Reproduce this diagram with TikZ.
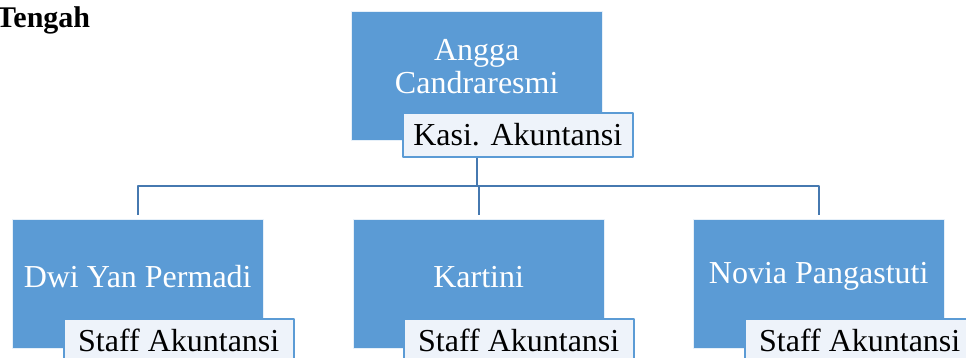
\documentclass[tikz,border=0pt]{standalone}
\usepackage{fontspec}
\setmainfont{Liberation Serif}
\definecolor{wwccff}{rgb}{0.357,0.608,0.835}
\definecolor{eeffff}{rgb}{0.933,0.953,0.980}
\definecolor{qqttbb}{rgb}{0.275,0.475,0.690}
\begin{document}
\begin{tikzpicture}[line cap=round,line join=round,x=1pt,y=-1pt,
	kotak/.style={draw=white!85!wwccff,fill=wwccff,anchor=north west,inner sep=0pt,minimum width=251pt,minimum height=129pt},
	jabatan/.style={draw=wwccff,line width=1.5pt,fill=eeffff,anchor=north west,inner sep=0pt,minimum width=230pt,minimum height=44pt,font=\fontsize{32}{34}\selectfont},
	nama/.style={text=white,align=center,inner sep=0pt,font=\fontsize{32}{33}\selectfont},
	garis/.style={draw=qqttbb,line width=2pt,line cap=butt}]
	\useasboundingbox (0,0) rectangle (966,357);
	\clip (0,0) rectangle (966,357);
	\node[anchor=base west,inner sep=0pt,font=\fontsize{30}{32}\selectfont\bfseries] (judul) at (-4,27) {Tengah};
	% kepala
	\node[kotak] (angga) at (351,11) {};
	\node[nama] (anggaNama) at ([yshift=9pt]angga.center) {Angga\\Candraresmi};
	\node[jabatan] (anggaJab) at (402,112) {Kasi. Akuntansi};
	% staff
	\node[kotak] (dwi) at (12,219) {};
	\node[nama] (dwiNama) at ([yshift=7pt]dwi.center) {Dwi Yan Permadi};
	\node[jabatan] (dwiJab) at (63,318) {Staff Akuntansi};
	\node[kotak] (kartini) at (353,219) {};
	\node[nama] (kartiniNama) at ([yshift=7pt]kartini.center) {Kartini};
	\node[jabatan] (kartiniJab) at (403,318) {Staff Akuntansi};
	\node[kotak] (novia) at (693,219) {};
	\node[nama] (noviaNama) at ([yshift=7pt]novia.center) {Novia Pangastuti};
	\node[jabatan] (noviaJab) at (744,318) {Staff Akuntansi};
	% garis
	\coordinate (bus) at (477,186);
	\draw[garis] (anggaJab.south -| bus) -- (bus);
	\draw[garis,shorten >=4pt] (bus) -| (dwi.north);
	\draw[garis,shorten >=4pt] (bus) -| (novia.north);
	\draw[garis,shorten >=4pt] (bus) -- (kartini.north |- bus) -- (kartini.north);
\end{tikzpicture}
\end{document}
